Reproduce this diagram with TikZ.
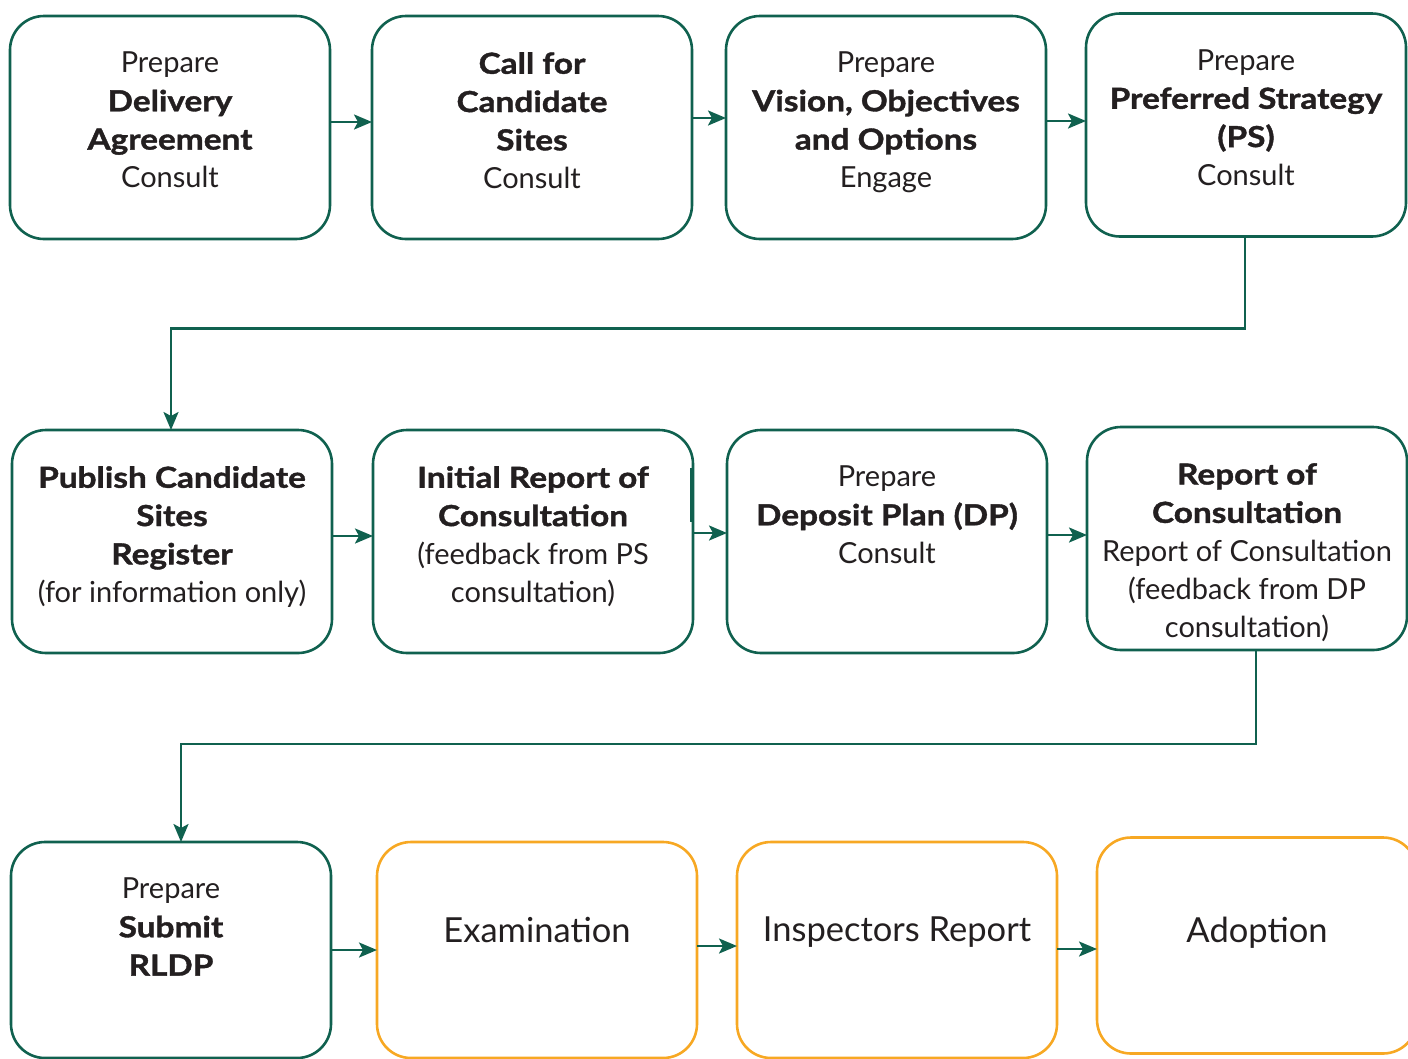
\documentclass[tikz,border=0pt]{standalone}
\usepackage{fontspec}
\setmainfont{Lato}[BoldFeatures={FakeStretch=1.15, FakeBold=1.3}]
\usetikzlibrary{positioning, arrows.meta}
\definecolor{stepgreen}{RGB}{16,97,79}
\definecolor{steporange}{RGB}{247,168,35}
\definecolor{steptext}{RGB}{35,31,32}
\tikzset{
	>={Stealth[length=18pt,width=15pt,inset=4pt]},
	stepbox/.style={draw=stepgreen, line width=2.6pt, rounded corners=34pt, outer sep=0pt,
		minimum width=320pt, minimum height=223pt},
	laterbox/.style={stepbox, draw=steporange, minimum height=216pt},
	steptext/.style={anchor=north, align=center, inner sep=0pt, text=steptext,
		font=\fontsize{29}{38.3}\selectfont},
	latertext/.style={steptext, font=\fontsize{34.5}{38}\selectfont},
	flow/.style={->, draw=stepgreen, line width=2.6pt},
}

\begin{document}
\begin{tikzpicture}[x=1pt, y=-1pt]
	\useasboundingbox (0,0) rectangle (1408,1058);
	
	% first row
	\node[stepbox] (pda) at (170,127.5) {};
	\node[stepbox, right=42pt of pda] (ccs) {};
	\node[stepbox, right=34pt of ccs] (voo) {};
	\node[stepbox, right=40pt of voo, yshift=2.5pt] (ps) {};
	
	\node[steptext] (pda-t) at ([yshift=-36pt]pda.north) {Prepare\\\textbf{Delivery}\\\textbf{Agreement}\\Consult};
	\node[steptext] (ccs-t) at ([yshift=-36pt]ccs.north) {\textbf{Call for}\\\textbf{Candidate}\\\textbf{Sites}\\Consult};
	\node[steptext] (voo-t) at ([yshift=-36pt]voo.north) {Prepare\\\textbf{Vision, Objectives}\\\textbf{and Options}\\Engage};
	\node[steptext] (ps-t) at ([yshift=-36pt]ps.north) {Prepare\\\textbf{Preferred Strategy}\\\textbf{(PS)}\\Consult};
	
	% second row
	\node[stepbox] (pcs) at (172,541.5) {};
	\node[stepbox, right=41pt of pcs] (irc) {};
	\node[stepbox, right=34pt of irc] (dp) {};
	\node[stepbox, right=40pt of dp, yshift=3pt] (roc) {};
	
	\node[steptext] (pcs-t) at ([yshift=-36pt]pcs.north) {\textbf{Publish Candidate}\\\textbf{Sites}\\\textbf{Register}\\(for information only)};
	\node[steptext] (irc-t) at ([yshift=-36pt]irc.north) {\textbf{Initial Report of}\\\textbf{Consultation}\\(feedback from PS\\consultation)};
	\node[steptext] (dp-t) at ([yshift=-36pt]dp.north) {Prepare\\\textbf{Deposit Plan (DP)}\\Consult};
	\node[steptext] (roc-t) at ([yshift=-36pt]roc.north) {\textbf{Report of}\\\textbf{Consultation}\\Report of Consultation\\(feedback from DP\\consultation)};
	
	% third row
	\node[stepbox, minimum height=216pt] (sub) at (171,950) {};
	\node[laterbox, right=46pt of sub] (exam) {};
	\node[laterbox, right=40pt of exam] (insp) {};
	\node[laterbox, right=40pt of insp, yshift=4.5pt] (adopt) {};
	
	\node[steptext] (sub-t) at ([yshift=-36pt]sub.north) {Prepare\\\textbf{Submit}\\\textbf{RLDP}};
	\node[latertext] (exam-t) at ([yshift=-75pt]exam.north) {Examination};
	\node[latertext] (insp-t) at ([yshift=-75pt]insp.north) {Inspectors Report};
	\node[latertext] (adopt-t) at ([yshift=-79pt]adopt.north) {Adoption};
	
	% arrows along the rows
	\draw[flow] ([yshift=5.5pt]pda.east) -- ([yshift=5.5pt]pda.east -| ccs.west);
	\draw[flow] ([yshift=9.5pt]ccs.east) -- ([yshift=9.5pt]ccs.east -| voo.west);
	\draw[flow] ([yshift=6.5pt]voo.east) -- ([yshift=6.5pt]voo.east -| ps.west);
	
	\draw[flow] ([yshift=5.5pt]pcs.east) -- ([yshift=5.5pt]pcs.east -| irc.west);
	\draw[flow] ([yshift=8.5pt]irc.east) -- ([yshift=8.5pt]irc.east -| dp.west);
	\draw[flow] ([yshift=6.5pt]dp.east) -- ([yshift=6.5pt]dp.east -| roc.west);
	\draw[stepgreen, line width=2pt] ([shift={(-2,38)}]irc.north east) -- ++(0,54);
	
	\draw[flow] (sub.east) -- (sub.east -| exam.west);
	\draw[flow] ([yshift=4pt]exam.east) -- ([yshift=4pt]exam.east -| insp.west);
	\draw[flow] ([yshift=1pt]insp.east) -- ([yshift=1pt]insp.east -| adopt.west);
	
	% links between the rows
	\draw[flow] ([xshift=-1pt]ps.south) -- ++(0,92) -| ([xshift=-1pt]pcs.north);
	\draw[flow] ([xshift=9pt]roc.south) -- ++(0,94) -| ([xshift=10pt]sub.north);
	
\end{tikzpicture}
\end{document}
